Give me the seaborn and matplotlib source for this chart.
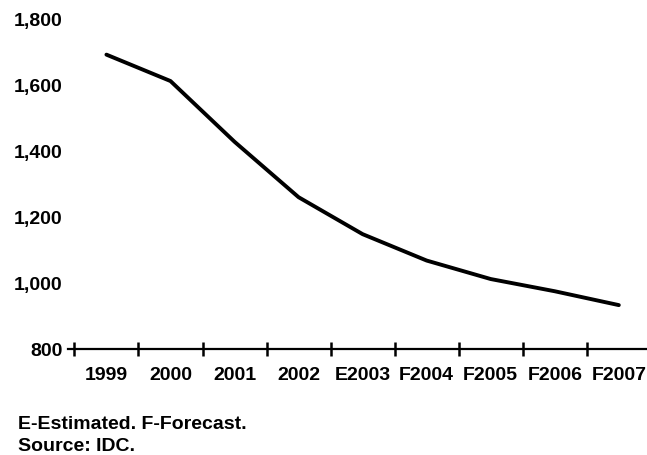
import numpy as np
import pandas as pd
import matplotlib
matplotlib.use('Agg')
import matplotlib.pyplot as plt
import seaborn as sns

# Donnees
years = ['1999', '2000', '2001', '2002', 'E2003', 'F2004', 'F2005', 'F2006', 'F2007']
values = [1692, 1612, 1428, 1260, 1148, 1068, 1012, 975, 933]
yticks = [800, 1000, 1200, 1400, 1600, 1800]
ytick_labels = ['800', '1,000', '1,200', '1,400', '1,600', '1,800']

sns.set_style('white')
plt.rcParams['font.family'] = ['Liberation Sans', 'DejaVu Sans']
plt.rcParams['text.color'] = 'black'
plt.rcParams['xtick.color'] = 'black'
plt.rcParams['ytick.color'] = 'black'

fig = plt.figure(figsize=(6.47, 4.56), dpi=100)
ax = fig.add_axes([68 / 647, 106 / 456, 1 - 68 / 647, 330 / 456])

df = pd.DataFrame({'year': years, 'value': values})
sns.lineplot(data=df, x='year', y='value', sort=False, color='black', linewidth=2.8, ax=ax)

ax.set_xlim(-0.6, 8.44)
ax.set_ylim(800, 1800)

for s in ['top', 'right', 'left']:
    ax.spines[s].set_visible(False)
ax.spines['bottom'].set_linewidth(1.6)
ax.spines['bottom'].set_color('black')

# etiquettes au centre, petits traits entre les categories
ax.set_xticks(range(len(years)))
ax.set_xticklabels(years, fontsize=14, fontweight='bold')
ax.set_xticks(np.arange(-0.5, len(years) - 1, 1), minor=True)
ax.tick_params(axis='x', which='major', bottom=True, length=0, pad=12)
ax.tick_params(axis='x', which='minor', bottom=True, length=10, width=1.8,
               direction='inout', color='black')

ax.set_yticks(yticks)
ax.set_yticklabels(ytick_labels, fontsize=14, fontweight='bold')
ax.tick_params(axis='y', length=0, pad=4)

ax.set_xlabel('')
ax.set_ylabel('')

fig.text(18 / 647, 1 - 429 / 456, 'E-Estimated. F-Forecast.', fontsize=14, fontweight='bold')
fig.text(18 / 647, 1 - 451 / 456, 'Source: IDC.', fontsize=14, fontweight='bold')

fig.savefig('out.png', dpi=100)
